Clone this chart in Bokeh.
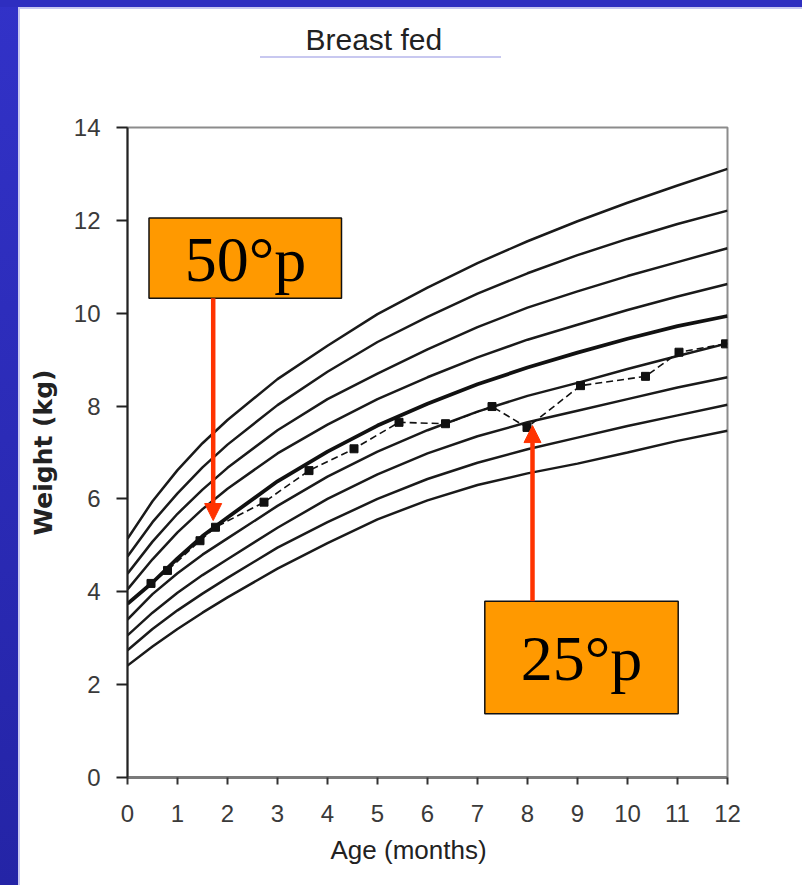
from bokeh.plotting import figure
from bokeh.models import Range1d, FixedTicker, Arrow, NormalHead, Title
from bokeh.core.properties import value
from bokeh.embed import file_html
from bokeh.resources import INLINE

# ---------------- data ----------------
months = [0, 0.5, 1, 1.5, 2, 3, 4, 5, 6, 7, 8, 9, 10, 11, 12]
c1 = [5.14, 5.95, 6.62, 7.20, 7.70, 8.58, 9.30, 9.98, 10.55, 11.08, 11.55, 11.98, 12.38, 12.75, 13.11]
c2 = [4.76, 5.50, 6.12, 6.68, 7.17, 8.02, 8.74, 9.38, 9.92, 10.42, 10.86, 11.25, 11.60, 11.92, 12.21]
c3 = [4.39, 5.08, 5.68, 6.20, 6.67, 7.48, 8.15, 8.70, 9.22, 9.70, 10.12, 10.47, 10.80, 11.10, 11.40]
c4 = [4.05, 4.70, 5.28, 5.78, 6.22, 6.98, 7.60, 8.15, 8.62, 9.05, 9.43, 9.75, 10.07, 10.36, 10.63]
c50 = [3.74, 4.20, 4.72, 5.20, 5.60, 6.38, 7.02, 7.58, 8.05, 8.47, 8.83, 9.15, 9.45, 9.72, 9.94]
c6 = [3.40, 3.95, 4.40, 4.80, 5.15, 5.85, 6.48, 7.02, 7.48, 7.88, 8.22, 8.50, 8.80, 9.08, 9.35]
c7 = [3.06, 3.55, 3.98, 4.36, 4.70, 5.38, 6.00, 6.53, 6.98, 7.35, 7.65, 7.90, 8.15, 8.40, 8.62]
c8 = [2.74, 3.20, 3.60, 3.96, 4.30, 4.95, 5.50, 6.00, 6.43, 6.78, 7.07, 7.32, 7.57, 7.80, 8.03]
c9 = [2.41, 2.82, 3.20, 3.55, 3.88, 4.50, 5.05, 5.56, 5.97, 6.30, 6.55, 6.76, 7.00, 7.25, 7.47]
thin_curves = [c1, c2, c3, c4, c6, c7, c8, c9]

child_age = [0.47, 0.80, 1.45, 1.76, 2.73, 3.63, 4.53, 5.43, 6.36, 7.29, 7.99, 9.06, 10.36, 11.03, 11.96]
child_weight = [4.18, 4.46, 5.10, 5.39, 5.93, 6.61, 7.08, 7.65, 7.62, 7.99, 7.54, 8.44, 8.64, 9.16, 9.34]

x_ticks = list(range(0, 13))
y_ticks = list(range(0, 15, 2))

title_text = "Breast fed"
x_title = "Age (months)"
y_title = "Weight (kg)"
label_50 = "50°p"
label_25 = "25°p"

# ---------------- page decoration (blue slide frame) ----------------
LAV = "#C8C8F0"
bg = ", ".join([
    "linear-gradient(" + LAV + ", " + LAV + ") 268px 64px / 241px 2px no-repeat",
    "linear-gradient(#2E2EC0, #2E2EC0) 0px 0px / 100% 15px no-repeat",
    "linear-gradient(" + LAV + ", " + LAV + ") 26px 15px / 100% 2px no-repeat",
    "linear-gradient(to bottom, #3232C8, #2424A6) 0px 0px / 26px 100% no-repeat",
    "linear-gradient(" + LAV + ", " + LAV + ") 26px 0px / 2px 100% no-repeat",
    "#ffffff",
])

# ---------------- figure ----------------
p = figure(width=810, height=893, x_range=Range1d(0, 12), y_range=Range1d(0, 14),
           output_backend="svg", toolbar_location=None, title=None,
           min_border_left=135, min_border_right=75, min_border_top=135, min_border_bottom=108)
p.styles = {"margin": "-8px", "background": bg}
p.border_fill_color = None
p.background_fill_color = None
p.outline_line_color = "#8c8c8c"
p.outline_line_width = 2
p.xgrid.visible = False
p.ygrid.visible = False

p.xaxis.ticker = FixedTicker(ticks=x_ticks)
p.yaxis.ticker = FixedTicker(ticks=y_ticks)
for ax in (p.xaxis, p.yaxis):
    ax.minor_tick_line_color = None
    ax.major_tick_in = 0
    ax.major_label_text_font = "Liberation Sans"
    ax.major_label_text_font_size = "24px"
    ax.major_label_text_color = "#3a3a3a"
p.xaxis.axis_line_color = "#7a7a7a"
p.xaxis.axis_line_width = 3
p.xaxis.major_tick_line_color = "#333333"
p.xaxis.major_tick_line_width = 2
p.xaxis.major_tick_out = 7
p.xaxis.major_label_standoff = 20
p.yaxis.axis_line_color = "#222222"
p.yaxis.axis_line_width = 2
p.yaxis.major_tick_line_color = "#222222"
p.yaxis.major_tick_line_width = 2
p.yaxis.major_tick_out = 11
p.yaxis.major_label_standoff = 16

p.yaxis.axis_label = y_title
p.yaxis.axis_label_text_font = "DejaVu Sans"
p.yaxis.axis_label_text_font_style = "bold"
p.yaxis.axis_label_text_font_size = "25px"
p.yaxis.axis_label_text_color = "#222222"
p.yaxis.axis_label_standoff = 13

# spacer (closest to the frame) then the title above it
p.add_layout(Title(text=" ", text_font_size="1px", standoff=64), "above")
p.add_layout(Title(text=title_text, align="left", offset=178, standoff=10,
                   text_font="Liberation Sans", text_font_style="normal",
                   text_font_size="30px", text_color="#222222"), "above")

# x axis title below
p.add_layout(Title(text=x_title, align="left", offset=203, standoff=16,
                   text_font="Liberation Sans", text_font_style="normal",
                   text_font_size="26px", text_color="#222222"), "below")

# percentile curves
for c in thin_curves:
    p.line(months, c, line_color="#1a1a1a", line_width=2.5)
p.line(months, c50, line_color="#111111", line_width=3.8)

# child data
p.line(child_age, child_weight, line_color="#111111", line_width=1.6, line_dash="7 4")
p.scatter(child_age, child_weight, marker="square", size=8, fill_color="#111111", line_color="#111111")

# annotation boxes
p.quad(left=[0.43], right=[4.28], bottom=[10.32], top=[12.05],
       fill_color="#FF9900", line_color="#111111", line_width=1.5)
p.quad(left=[7.146], right=[11.014], bottom=[1.372], top=[3.797],
       fill_color="#FF9900", line_color="#111111", line_width=1.5)
p.text(x=[2.36], y=[11.16], text=[label_50], text_font=value("Liberation Serif"),
       text_font_size="64px", text_align="center", text_baseline="alphabetic", text_color="black")
p.text(x=[9.08], y=[2.57], text=[label_25], text_font=value("Liberation Serif"),
       text_font_size="64px", text_align="center", text_baseline="alphabetic", text_color="black")

RED = "#FF3300"
p.add_layout(Arrow(x_start=1.714, y_start=10.32, x_end=1.714, y_end=5.535,
                   line_color=RED, line_width=4.5,
                   end=NormalHead(size=17, fill_color=RED, line_color=RED, line_width=1)))
p.add_layout(Arrow(x_start=8.10, y_start=3.797, x_end=8.10, y_end=7.58,
                   line_color=RED, line_width=4.5,
                   end=NormalHead(size=17, fill_color=RED, line_color=RED, line_width=1)))

open("out.html", "w").write(file_html(p, INLINE))
